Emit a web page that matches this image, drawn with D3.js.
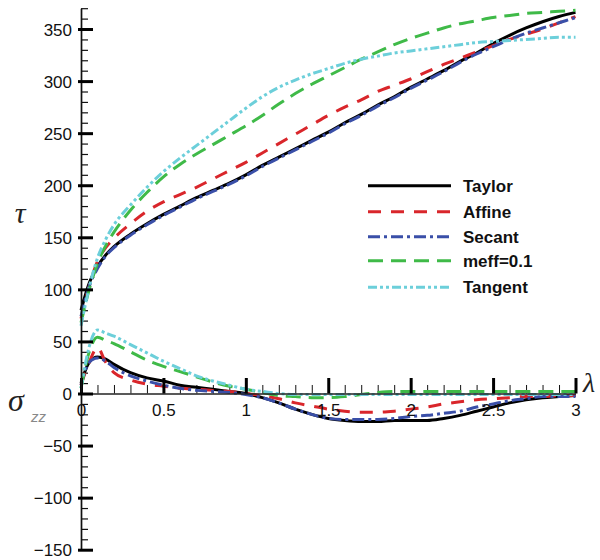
<!DOCTYPE html>
<html>
<head>
<meta charset="utf-8">
<script src="https://cdn.jsdelivr.net/npm/d3@7/dist/d3.min.js"></script>
<style>
  html, body { margin: 0; padding: 0; background: #fff; }
  svg { display: block; }
  .tick text { font-family: "Liberation Sans", Arial, sans-serif; font-size: 17px; fill: #111; }
</style>
</head>
<body>
<svg id="chart" width="600" height="560"></svg>
<script>
// Stretch parameter λ shared by every curve
const lambda = [0, 0.05, 0.1, 0.15, 0.2, 0.3, 0.4, 0.5, 0.6, 0.7, 0.8, 0.9, 1.0,
  1.1, 1.2, 1.3, 1.4, 1.5, 1.6, 1.7, 1.8, 1.9, 2.0, 2.1, 2.2, 2.3, 2.4, 2.5,
  2.6, 2.7, 2.8, 2.9, 3.0];

// Shear stress τ for each homogenization scheme
const tauTaylor  = [80, 106, 122, 133, 141, 153, 163, 172, 180, 188, 195, 202, 210,
  219, 227, 235, 243, 251, 260, 268, 277, 285, 294, 302, 310, 319, 327, 336,
  344, 351, 357, 362, 366];
const tauAffine  = [72, 103, 127, 140, 149, 163, 175, 184, 191, 198, 206, 214, 222,
  231, 240, 249, 258, 267, 275, 282, 290, 296, 302, 309, 316, 322, 328, 334,
  340, 345, 350, 356, 362];
const tauSecant  = [74, 103, 120, 132, 140, 152, 162, 171, 179, 187, 194, 201, 209,
  218, 226, 234, 242, 250, 259, 267, 276, 284, 293, 301, 309, 318, 326, 333,
  340, 346, 351, 356, 361];
const tauMeff    = [68, 100, 125, 142, 155, 176, 193, 208, 220, 230, 239, 248, 257,
  267, 278, 288, 297, 305, 313, 321, 328, 335, 341, 346, 351, 355, 358, 361,
  363, 365, 366, 367, 368];
const tauTangent = [65, 102, 130, 148, 162, 181, 198, 213, 226, 238, 250, 262, 274,
  285, 294, 301, 307, 312, 317, 321, 324, 327, 329, 331, 333, 335, 337, 338,
  339, 340, 341, 342, 342];

// Normal stress σzz for each scheme
const szzTaylor  = [10, 30, 35, 33, 28, 20, 15, 12, 8, 6, 4, 2, 0,
  -4, -9, -15, -20, -24, -26, -27, -27, -26, -26, -26, -24, -21, -17, -13,
  -9, -6, -4, -3, -2];
const szzAffine  = [8, 30, 44, 30, 20, 13, 9, 7, 5, 4, 3, 2, 0,
  -2, -5, -9, -12, -15, -17, -18, -18, -17, -15, -13, -10, -8, -6, -5,
  -4, -3, -3, -2, -2];
const szzSecant  = [8, 30, 34, 31, 25, 17, 12, 8, 5, 3, 2, 1, -1,
  -4, -9, -15, -20, -24, -25, -25, -25, -24, -22, -21, -19, -17, -13, -10,
  -7, -5, -3, -3, -3];
const szzMeff    = [5, 40, 54, 51, 48, 40, 32, 26, 21, 16, 11, 7, 4,
  1, -2, -3, -4, -4, -3, -1, 1, 2, 2, 2, 2, 2, 2, 2,
  2, 2, 2, 2, 2];
const szzTangent = [5, 45, 61, 58, 55, 47, 39, 31, 24, 17, 12, 8, 4,
  2, 0, -1, -1, -1, -1, -1, -1, -1, -1, -1, -1, -1, -1, -1,
  -1, -1, -1, -1, -1];

const seriesNames = ["Taylor", "Affine", "Secant", "meff=0.1", "Tangent"];
const seriesColors = ["#000000", "#d9262b", "#3a4fa8", "#3fba48", "#6ccfda"];
const seriesDashes = [null, "13,10", "12,4,3,4", "15,8", "9,3,3,3,3,3"];
const tauSeries = [tauTaylor, tauAffine, tauSecant, tauMeff, tauTangent];
const szzSeries = [szzTaylor, szzAffine, szzSecant, szzMeff, szzTangent];

const xMajor = [0, 0.5, 1, 1.5, 2, 2.5, 3];
const xMajorLabels = ["0", "0.5", "1", "1.5", "2", "2.5", "3"];
const yMajor = [-150, -100, -50, 0, 50, 100, 150, 200, 250, 300, 350];

const svg = d3.select("#chart");
const x = d3.scaleLinear().domain([0, 3]).range([81, 575.5]);
const y = d3.scaleLinear().domain([-150, 370]).range([549.7, 8.2]);

// minor ticks every 0.1 on λ and every 10 on the stress axis
const xMinor = d3.range(0, 31).map(i => i / 10).filter(v => Math.abs(v * 2 - Math.round(v * 2)) > 1e-6);
const yMinor = d3.range(-150, 371, 10).filter(v => v % 50 !== 0);

const gxMinor = svg.append("g").attr("transform", `translate(0,${y(0)})`)
  .call(d3.axisBottom(x).tickValues(xMinor).tickSizeInner(-8.5).tickSizeOuter(0).tickFormat(""));
gxMinor.select(".domain").remove();
gxMinor.selectAll(".tick line").attr("stroke", "#111").attr("stroke-width", 1);

const gyMinor = svg.append("g").attr("transform", `translate(${x(0)},0)`)
  .call(d3.axisLeft(y).tickValues(yMinor).tickSizeInner(-7).tickSizeOuter(0).tickFormat(""));
gyMinor.select(".domain").remove();
gyMinor.selectAll(".tick line").attr("stroke", "#111").attr("stroke-width", 1.2);

// curves: σzz group first, τ group on top
const line = d3.line().x((d, i) => x(lambda[i])).y(d => y(d)).curve(d3.curveMonotoneX);
const curves = svg.append("g");
[szzSeries, tauSeries].forEach(group => {
  group.forEach((vals, k) => {
    curves.append("path")
      .datum(vals)
      .attr("d", line)
      .attr("fill", "none")
      .attr("stroke", seriesColors[k])
      .attr("stroke-width", 3)
      .attr("stroke-dasharray", seriesDashes[k]);
  });
});

// major axes
const gx = svg.append("g").attr("transform", `translate(0,${y(0)})`)
  .call(d3.axisBottom(x).tickValues(xMajor).tickSizeInner(-15.5).tickSizeOuter(0)
    .tickPadding(10).tickFormat((d, i) => xMajorLabels[i]));
gx.select(".domain").attr("stroke", "#222").attr("stroke-width", 1.6);
gx.selectAll(".tick line").attr("stroke", "#000").attr("stroke-width", 3);

const gy = svg.append("g").attr("transform", `translate(${x(0)},0)`)
  .call(d3.axisLeft(y).tickValues(yMajor).tickSizeInner(-12).tickSizeOuter(0).tickPadding(9));
gy.select(".domain").attr("stroke", "#111").attr("stroke-width", 1.7);
gy.selectAll(".tick line").attr("x1", -3).attr("stroke", "#000").attr("stroke-width", 3);
gy.selectAll(".tick text").attr("dy", "0.36em");

// axis titles
svg.append("text").attr("x", 20).attr("y", 223).attr("text-anchor", "middle")
  .style("font-family", "'Liberation Serif', serif").style("font-style", "italic")
  .style("font-size", "30px").attr("fill", "#222").text("τ");
svg.append("text").attr("x", 8).attr("y", 411)
  .style("font-family", "'Liberation Serif', serif").style("font-style", "italic")
  .style("font-size", "32px").attr("fill", "#222").text("σ");
svg.append("text").attr("x", 31).attr("y", 422)
  .style("font-family", "'Liberation Sans', sans-serif").style("font-style", "italic")
  .style("font-size", "15px").attr("fill", "#888").text("zz");
svg.append("text").attr("x", 583).attr("y", 392)
  .style("font-family", "'Liberation Serif', serif").style("font-style", "italic")
  .style("font-size", "28px").attr("fill", "#222").text("λ");

// legend
const legendRows = [185.7, 211.7, 236.7, 260.7, 287.3];
const legend = svg.append("g");
seriesNames.forEach((name, k) => {
  legend.append("line")
    .attr("x1", 368).attr("x2", 451)
    .attr("y1", legendRows[k]).attr("y2", legendRows[k])
    .attr("stroke", seriesColors[k]).attr("stroke-width", 3)
    .attr("stroke-dasharray", seriesDashes[k]);
  legend.append("text")
    .attr("x", 463).attr("y", legendRows[k] + 6)
    .style("font-family", "'Liberation Sans', Arial, sans-serif")
    .style("font-weight", "bold").style("font-size", "17px")
    .attr("fill", "#111").text(name);
});
</script>
</body>
</html>
